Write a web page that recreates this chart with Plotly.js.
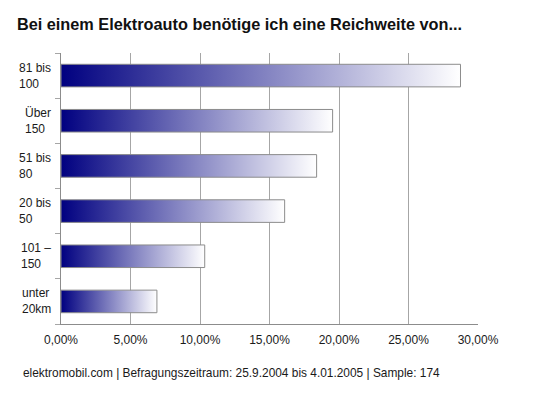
<!DOCTYPE html>
<html>
<head>
<meta charset="utf-8">
<script src="https://cdn.plot.ly/plotly-3.0.1.min.js"></script>
<style>
  html, body { margin: 0; padding: 0; background: #fff; }
  #chart { width: 546px; height: 400px; }
</style>
</head>
<body>
<div id="chart"></div>
<script>
// Reichweite categories, top to bottom
const categories = ['81 bis<br>100', 'Über<br>150', '51 bis<br>80', '20 bis<br>50', '101 –<br>150', 'unter<br>20km'];
// share of answers
const shares = [0.2874, 0.1954, 0.1839, 0.1609, 0.1034, 0.0690];
const xTicks = [0, 0.05, 0.10, 0.15, 0.20, 0.25, 0.30];

const barHalf = 0.25;
const fontFamily = '"Liberation Sans", Arial, sans-serif';

let data = [];
for (let i = 0; i < shares.length; i++) {
  // each bar is a filled shape so that it can carry a gradient
  data.push({
    type: 'scatter',
    mode: 'lines',
    x: [0, shares[i], shares[i], 0, 0],
    y: [i - barHalf, i - barHalf, i + barHalf, i + barHalf, i - barHalf],
    fill: 'toself',
    fillgradient: {
      type: 'horizontal',
      colorscale: [[0, '#000080'], [1, '#ffffff']]
    },
    line: {color: '#8c8c8c', width: 1},
    hoverinfo: 'skip',
    showlegend: false
  });
}

let boundaries = [];
for (let i = 0; i <= categories.length; i++) {
  boundaries.push(i - 0.5);
}

let annotations = categories.map((c, i) => ({
  text: c,
  xref: 'paper',
  yref: 'y',
  x: -0.02,
  y: i,
  xanchor: 'right',
  yanchor: 'middle',
  align: 'left',
  showarrow: false,
  font: {family: fontFamily, size: 12, color: '#1a1a1a'}
}));

annotations.push({
  text: 'elektromobil.com | Befragungszeitraum: 25.9.2004 bis 4.01.2005 | Sample: 174',
  xref: 'paper',
  yref: 'paper',
  x: -0.095,
  y: -0.18,
  xanchor: 'left',
  yanchor: 'middle',
  showarrow: false,
  font: {family: fontFamily, size: 11.9, color: '#1a1a1a'}
});

let layout = {
  width: 546,
  height: 400,
  margin: {l: 61, r: 68, t: 53, b: 76},
  paper_bgcolor: '#ffffff',
  plot_bgcolor: '#ffffff',
  separators: ',.',
  font: {family: fontFamily, size: 12, color: '#1a1a1a'},
  title: {
    text: '<b>Bei einem Elektroauto benötige ich eine Reichweite von...</b>',
    font: {family: fontFamily, size: 16.3, color: '#111111'},
    xref: 'container',
    x: 0.031,
    xanchor: 'left',
    yref: 'container',
    y: 0.94,
    yanchor: 'middle'
  },
  xaxis: {
    range: [0, 0.30],
    tickvals: xTicks,
    tickformat: '.2%',
    showgrid: true,
    gridcolor: '#a6a6a6',
    gridwidth: 1,
    zeroline: false,
    showline: true,
    linecolor: '#8c8c8c',
    ticks: '',
    ticklabelstandoff: 5,
    tickfont: {family: fontFamily, size: 12, color: '#1a1a1a'},
    fixedrange: true
  },
  yaxis: {
    range: [categories.length - 0.5, -0.5],
    tickvals: boundaries,
    ticktext: boundaries.map(() => ''),
    ticks: 'outside',
    ticklen: 5,
    tickcolor: '#a6a6a6',
    showgrid: false,
    zeroline: false,
    showline: true,
    linecolor: '#8c8c8c',
    fixedrange: true
  },
  annotations: annotations,
  showlegend: false
};

Plotly.newPlot('chart', data, layout, {displayModeBar: false, staticPlot: true});
</script>
</body>
</html>
